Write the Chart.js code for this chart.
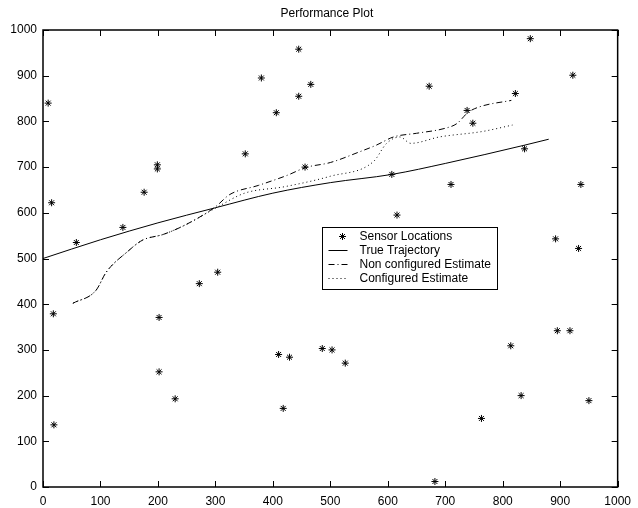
<!DOCTYPE html>
<html>
<head>
<meta charset="utf-8">
<title>Performance Plot</title>
<script src="https://cdn.jsdelivr.net/npm/chart.js@4.4.1/dist/chart.umd.min.js"></script>
<style>
  html, body { margin: 0; padding: 0; background: #fff; }
  canvas { display: block; }
</style>
</head>
<body>
<canvas id="plot" width="638" height="508"></canvas>
<script>
const fontFamily = '"Liberation Sans", Arial, Helvetica, sans-serif';
const tickValues = [0, 100, 200, 300, 400, 500, 600, 700, 800, 900, 1000];

// sensor positions
const sensorX = [9, 15, 18, 19, 58, 139, 176, 199, 199, 202, 202, 230, 272, 304, 352, 380, 406, 410, 418, 429, 445, 445, 456, 466, 486, 503, 526, 607, 616, 672, 682, 710, 738, 748, 763, 814, 822, 832, 838, 848, 892, 895, 917, 922, 932, 936, 950];
const sensorY = [840, 622, 379, 136, 535, 568, 645, 705, 696, 371, 252, 193, 445, 470, 729, 895, 819, 290, 172, 284, 958, 855, 700, 881, 303, 300, 271, 684, 595, 877, 12, 662, 824, 796, 150, 309, 861, 200, 740, 981, 543, 342, 342, 901, 522, 662, 189];

const trueX = [0, 100, 200, 300, 400, 500, 607, 700, 838, 880];
const trueY = [500, 541, 578, 611, 643, 666, 684, 708, 748, 761];

const nonConfX = [52, 92, 110, 147, 173, 210, 250, 300, 325, 375, 425, 457, 500, 552, 580, 610, 650, 700, 720, 740, 760, 815];
const nonConfY = [402, 430, 470, 515, 540, 553, 575, 613, 640, 660, 682, 699, 710, 734, 748, 766, 774, 785, 795, 820, 832, 846];

const confX = [52, 92, 110, 147, 173, 210, 250, 300, 351, 420, 500, 575, 598, 621, 640, 690, 765, 817];
const confY = [402, 430, 470, 515, 540, 553, 575, 610, 643, 657, 680, 712, 752, 766, 752, 766, 778, 792];

function points(xs, ys) {
  return xs.map((x, i) => ({ x, y: ys[i] }));
}

function drawStar(ctx, x, y, r) {
  const d = r * Math.SQRT1_2;
  ctx.beginPath();
  ctx.moveTo(x - r, y); ctx.lineTo(x + r, y);
  ctx.moveTo(x, y - r); ctx.lineTo(x, y + r);
  ctx.moveTo(x - d, y - d); ctx.lineTo(x + d, y + d);
  ctx.moveTo(x - d, y + d); ctx.lineTo(x + d, y - d);
  ctx.stroke();
}

// box, inward ticks, title and the legend drawn like the original figure
const figurePlugin = {
  id: 'figure',
  afterDraw(chart) {
    const { ctx, chartArea: a } = chart;
    const xScale = chart.scales.x;
    const yScale = chart.scales.y;
    const w = a.right - a.left;
    const h = a.bottom - a.top;
    const tl = 6;
    ctx.save();
    ctx.fillStyle = '#000';
    ctx.strokeStyle = '#000';
    ctx.setLineDash([]);

    tickValues.forEach((v) => {
      const px = Math.round(xScale.getPixelForValue(v));
      const py = Math.round(yScale.getPixelForValue(v));
      ctx.fillRect(px, a.bottom - tl, 1, tl);
      ctx.fillRect(px, a.top, 1, tl);
      ctx.fillRect(a.left, py, tl, 1);
      ctx.fillRect(a.right - tl, py, tl, 1);
    });

    ctx.lineWidth = 1.5;
    ctx.strokeRect(a.left, a.top, w, h);

    ctx.lineWidth = 1;
    ctx.font = `12px ${fontFamily}`;
    ctx.textAlign = 'center';
    ctx.textBaseline = 'middle';
    ctx.fillText('Performance Plot', a.left + w * 0.494, a.top - 16);

    // legend
    const lx = Math.round(a.left + w * 0.485) + 0.5;
    const ly = Math.round(a.top + h * 0.431) + 0.5;
    const sets = chart.data.datasets;
    const textW = Math.max(...sets.map((ds) => ctx.measureText(ds.label).width));
    const boxW = Math.round(37 + textW + 7);
    const boxH = 62;
    ctx.fillStyle = '#fff';
    ctx.fillRect(lx, ly, boxW, boxH);
    ctx.strokeRect(lx, ly, boxW, boxH);
    ctx.textAlign = 'left';
    sets.forEach((ds, i) => {
      const ry = ly + 9 + i * 14;
      ctx.strokeStyle = '#000';
      if (ds.showLine) {
        ctx.setLineDash(ds.borderDash || []);
        ctx.beginPath();
        ctx.moveTo(lx + 6, ry);
        ctx.lineTo(lx + 25, ry);
        ctx.stroke();
        ctx.setLineDash([]);
      } else {
        drawStar(ctx, lx + 20, ry, 3.5);
      }
      ctx.fillStyle = '#000';
      ctx.fillText(ds.label, lx + 37, ry);
    });
    ctx.restore();
  },
};

const axisFont = { family: fontFamily, size: 12 };
const plainLabel = (value) => String(value);

new Chart(document.getElementById('plot'), {
  type: 'scatter',
  data: {
    datasets: [
      {
        label: 'Sensor Locations',
        data: points(sensorX, sensorY),
        pointStyle: 'star',
        radius: 3.5,
        borderColor: '#000',
        backgroundColor: '#000',
        borderWidth: 1,
        showLine: false,
      },
      {
        label: 'True Trajectory',
        data: points(trueX, trueY),
        showLine: true,
        borderColor: '#000',
        borderWidth: 1,
        pointRadius: 0,
        cubicInterpolationMode: 'monotone',
      },
      {
        label: 'Non configured Estimate',
        data: points(nonConfX, nonConfY),
        showLine: true,
        borderColor: '#000',
        borderWidth: 1,
        borderDash: [6, 3, 1, 3],
        pointRadius: 0,
        cubicInterpolationMode: 'monotone',
      },
      {
        label: 'Configured Estimate',
        data: points(confX, confY),
        showLine: true,
        borderColor: '#000',
        borderWidth: 1,
        borderDash: [1, 3],
        pointRadius: 0,
        cubicInterpolationMode: 'monotone',
      },
    ],
  },
  options: {
    responsive: false,
    devicePixelRatio: 1,
    animation: false,
    events: [],
    layout: { padding: { top: 30, right: 15, left: 0, bottom: 0 } },
    scales: {
      x: {
        type: 'linear',
        min: 0,
        max: 1000,
        ticks: { stepSize: 100, font: axisFont, color: '#000', padding: 7, maxRotation: 0, callback: plainLabel },
        grid: { display: false, drawTicks: false },
        border: { display: false },
        afterFit: (s) => { s.height = 21; },
      },
      y: {
        type: 'linear',
        min: 0,
        max: 1000,
        ticks: { stepSize: 100, font: axisFont, color: '#000', padding: 6, callback: plainLabel },
        grid: { display: false, drawTicks: false },
        border: { display: false },
        afterFit: (s) => { s.width = 43; },
      },
    },
    plugins: {
      legend: { display: false },
      title: { display: false },
      tooltip: { enabled: false },
    },
  },
  plugins: [figurePlugin],
});
</script>
</body>
</html>
